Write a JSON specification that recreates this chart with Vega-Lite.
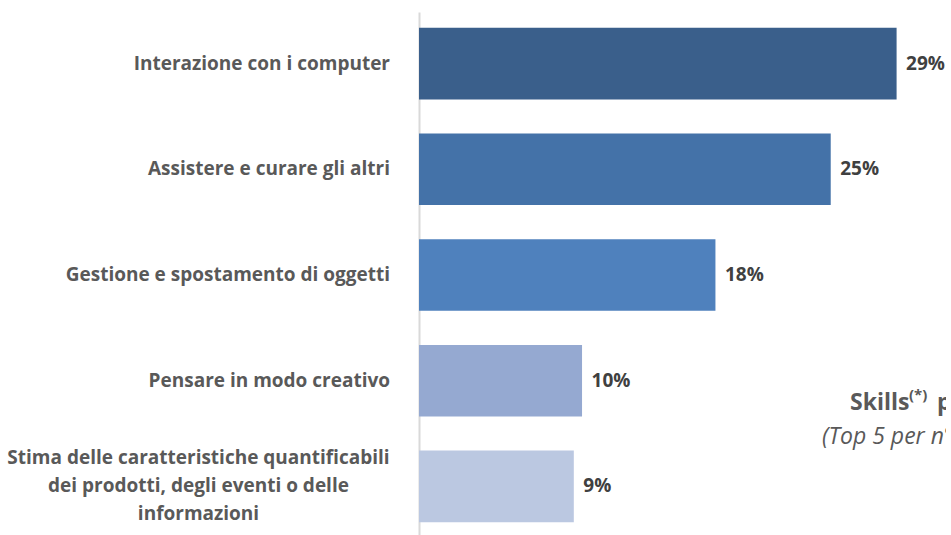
{
  "$schema": "https://vega.github.io/schema/vega-lite/v6.json",
  "width": 527,
  "height": 526,
  "autosize": "none",
  "padding": {"left": 419, "top": 12, "right": 0, "bottom": 0},
  "background": "white",
  "config": {"view": {"stroke": null}, "font": "Open Sans"},
  "data": {
    "values": [
      {"skill": "Interazione con i computer", "value": 29, "pct": "29%", "shade": "s1", "multi": false},
      {"skill": "Assistere e curare gli altri", "value": 25, "pct": "25%", "shade": "s2", "multi": false},
      {"skill": "Gestione e spostamento di oggetti", "value": 18, "pct": "18%", "shade": "s3", "multi": false},
      {"skill": "Pensare in modo creativo", "value": 9.9, "pct": "10%", "shade": "s4", "multi": false},
      {"skill": "Stima delle caratteristiche quantificabili\ndei prodotti, degli eventi o delle\ninformazioni", "value": 9.4, "pct": "9%", "shade": "s5", "multi": true}
    ]
  },
  "encoding": {
    "y": {
      "field": "skill",
      "type": "nominal",
      "sort": null,
      "scale": {"paddingInner": 0.323, "paddingOuter": 0.15},
      "axis": {"labels": false, "ticks": false, "title": null, "domainColor": "#d9d9d9", "domainWidth": 2}
    }
  },
  "layer": [
    {
      "mark": {"type": "bar"},
      "encoding": {
        "x": {"field": "value", "type": "quantitative", "scale": {"domain": [0, 32], "nice": false, "zero": true}, "axis": null},
        "color": {
          "field": "shade",
          "type": "nominal",
          "scale": {"domain": ["s1", "s2", "s3", "s4", "s5"], "range": ["#3A5F8B", "#4472A8", "#4F81BD", "#95A9D1", "#BBC8E1"]},
          "legend": null
        }
      }
    },
    {
      "mark": {"type": "text", "align": "left", "baseline": "middle", "dx": 9.5, "fontSize": 19, "fontWeight": "bold", "color": "#404040"},
      "encoding": {
        "x": {"field": "value", "type": "quantitative"},
        "text": {"field": "pct"}
      }
    },
    {
      "transform": [{"filter": "datum.multi == false"}],
      "mark": {"type": "text", "align": "right", "baseline": "middle", "dx": -29, "fontSize": 19, "fontWeight": "bold", "color": "#595959"},
      "encoding": {
        "x": {"datum": 0, "type": "quantitative"},
        "text": {"field": "skill"}
      }
    },
    {
      "transform": [{"filter": "datum.multi == true"}],
      "mark": {"type": "text", "align": "center", "baseline": "middle", "dx": -220.5, "dy": -28.5, "fontSize": 19, "fontWeight": "bold", "color": "#595959", "lineBreak": "\n", "lineHeight": 28},
      "encoding": {
        "x": {"datum": 0, "type": "quantitative"},
        "text": {"field": "skill"}
      }
    },
    {
      "data": {"values": [{"t": "Skills"}]},
      "mark": {"type": "text", "align": "left", "baseline": "middle", "dy": 22.5, "fontSize": 23, "fontWeight": "bold", "color": "#595959"},
      "encoding": {
        "x": {"datum": 26.17, "type": "quantitative"},
        "y": {"datum": "Pensare in modo creativo"},
        "text": {"field": "t"}
      }
    },
    {
      "data": {"values": [{"t": "(*)"}]},
      "mark": {"type": "text", "align": "left", "baseline": "middle", "dy": 14, "fontSize": 15, "fontWeight": "bold", "color": "#595959"},
      "encoding": {
        "x": {"datum": 29.75, "type": "quantitative"},
        "y": {"datum": "Pensare in modo creativo"},
        "text": {"field": "t"}
      }
    },
    {
      "data": {"values": [{"t": "più richieste"}]},
      "mark": {"type": "text", "align": "left", "baseline": "middle", "dy": 22.5, "fontSize": 23, "fontWeight": "bold", "color": "#595959"},
      "encoding": {
        "x": {"datum": 31.45, "type": "quantitative"},
        "y": {"datum": "Pensare in modo creativo"},
        "text": {"field": "t"}
      }
    },
    {
      "data": {"values": [{"t": "(Top 5 per n° di entrate)"}]},
      "mark": {"type": "text", "align": "left", "baseline": "middle", "dy": 56.5, "fontSize": 23, "fontStyle": "italic", "color": "#595959"},
      "encoding": {
        "x": {"datum": 24.47, "type": "quantitative"},
        "y": {"datum": "Pensare in modo creativo"},
        "text": {"field": "t"}
      }
    }
  ]
}
